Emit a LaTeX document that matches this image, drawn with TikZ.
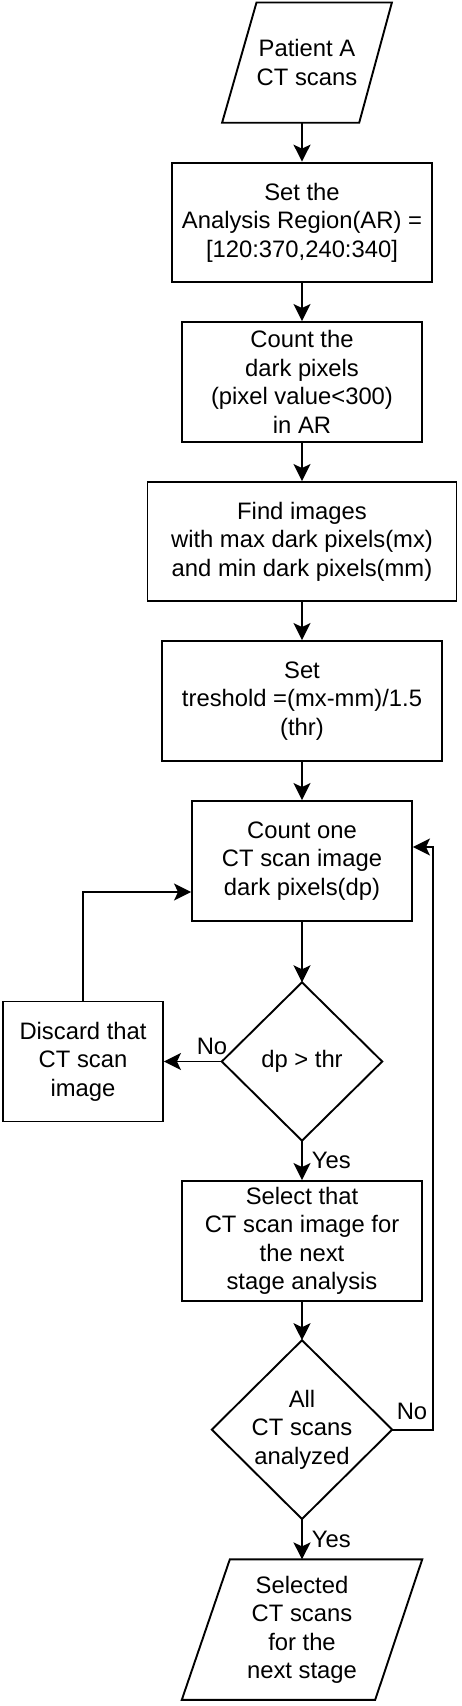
\documentclass[tikz,border=0pt]{standalone}
\usepackage{fontspec}
\setmainfont{Liberation Sans}
\usetikzlibrary{arrows.meta,calc}
\begin{document}
\begin{tikzpicture}[x=1pt,y=1pt,
  every node/.style={font=\fontsize{23.8}{28.5}\selectfont, align=center, inner sep=0pt},
  box/.style={draw, line width=1.9pt, rectangle},
  shapebox/.style={rectangle, draw=none},
  lbl/.style={font=\fontsize{23.8}{28.5}\selectfont},
  arr/.style={line width=1.9pt, -{Stealth[length=17pt,width=17pt,inset=4pt]}},
  line/.style={line width=1.9pt, line join=miter}
]
\useasboundingbox (0,0) rectangle (462,-1706);

% input parallelogram
\node[shapebox, minimum width=169.4pt, minimum height=119.8pt] (in1) at (307,-62.6) {Patient A\\CT scans};
\draw[line] ([xshift=34.4pt]in1.north west) -- (in1.north east) -- ([xshift=-32.7pt]in1.south east) -- (in1.south west) -- cycle;

\node[box, minimum width=260pt, minimum height=119.8pt] (b1) at (302,-222.5) {Set the\\Analysis Region(AR) =\\{}[120:370,240:340]};
\node[box, minimum width=240pt, minimum height=120pt] (b2) at (302,-382) {Count the\\dark pixels\\(pixel value<300)\\in AR};
\node[box, minimum width=309pt, minimum height=119pt] (b3) at (302,-541.5) {Find images\\with max dark pixels(mx)\\and min dark pixels(mm)};
\node[box, minimum width=280pt, minimum height=120pt] (b4) at (302,-701) {Set\\treshold =(mx-mm)/1.5\\(thr)};
\node[box, minimum width=220pt, minimum height=120pt] (b5) at (302,-861) {Count one\\CT scan image\\dark pixels(dp)};

% decision 1
\node[shapebox, minimum width=160pt, minimum height=158pt] (d1) at (302,-1061.5) {dp > thr};
\draw[line] (d1.north) -- (d1.east) -- (d1.south) -- (d1.west) -- cycle;

\node[box, minimum width=160pt, minimum height=120pt] (disc) at (83,-1061.5) {Discard that\\CT scan\\image};

\node[box, minimum width=240pt, minimum height=120pt] (b6) at (302,-1241) {Select that\\CT scan image for\\the next\\stage analysis};

% decision 2
\node[shapebox, minimum width=180pt, minimum height=178.4pt] (d2) at (302,-1429.6) {All\\CT scans\\analyzed};
\draw[line] (d2.north) -- (d2.east) -- (d2.south) -- (d2.west) -- cycle;

% output parallelogram
\node[shapebox, minimum width=240pt, minimum height=140pt] (out) at (302,-1629.6) {Selected\\CT scans\\for the\\next stage};
\draw[line] ([xshift=48pt]out.north west) -- (out.north east) -- ([xshift=-47pt]out.south east) -- (out.south west) -- cycle;

% connectors
\draw[arr] (in1.south -| b1.north) -- (b1.north);
\draw[arr] (b1.south) -- (b2.north);
\draw[arr] (b2.south) -- (b3.north);
\draw[arr] (b3.south) -- (b4.north);
\draw[arr] (b4.south) -- (b5.north);
\draw[arr] (b5.south) -- (d1.north);
\draw[arr] (d1.west) -- (disc.east) node[lbl, pos=0.17, above=6pt] {No};
\draw[arr] (disc.north) |- ([yshift=-31pt]b5.west);
\draw[arr] (d1.south) -- (b6.north) node[lbl, pos=0.5, right=9pt] {Yes};
\draw[arr] (b6.south) -- (d2.north);
\draw[arr] (d2.east) -- (d2.east -| b1.east) |- ([yshift=14pt]b5.east);
\node[lbl] (no2) at (412,-1411) {No};
\draw[arr] (d2.south) -- (out.north) node[lbl, pos=0.5, right=9pt] {Yes};
\end{tikzpicture}
\end{document}
